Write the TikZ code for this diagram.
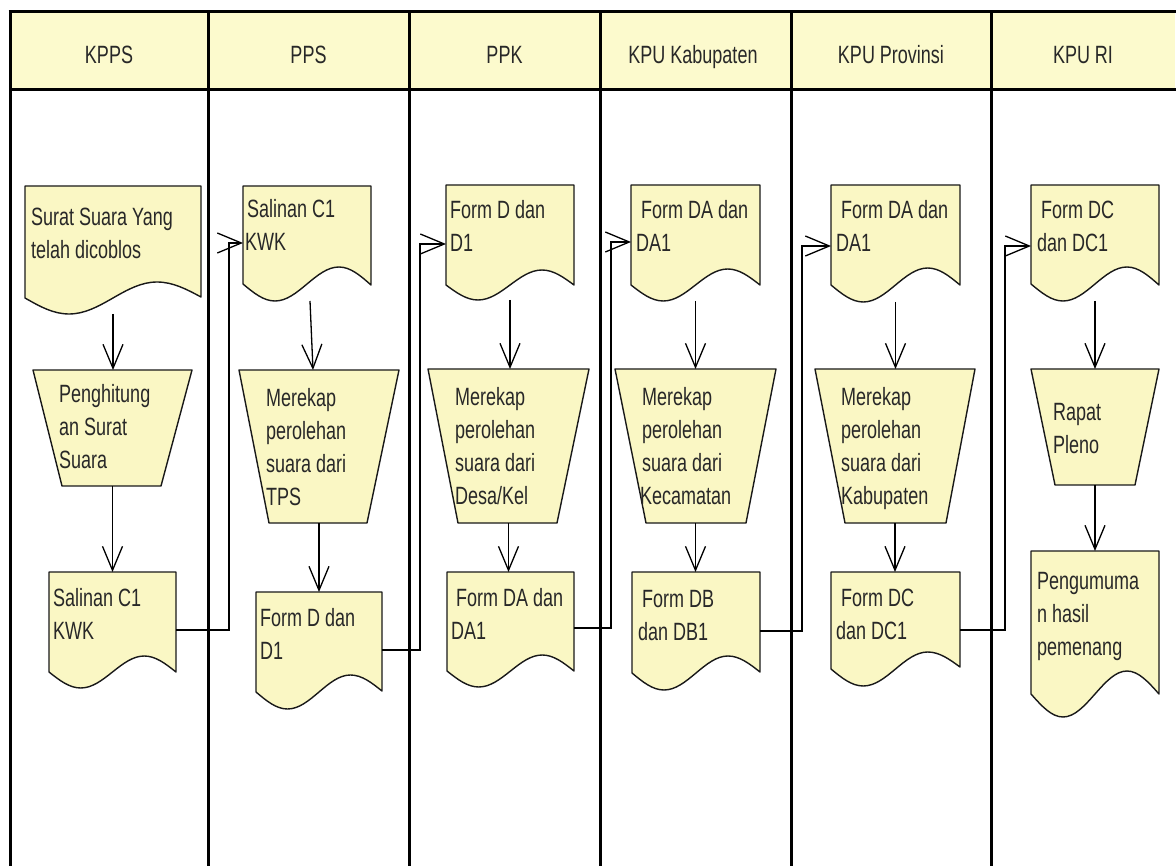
\documentclass[tikz,border=0pt]{standalone}
\usepackage{fontspec}
\newfontfamily\lab{Liberation Sans}[FakeStretch=0.72]
\usetikzlibrary{arrows.meta,calc}
\definecolor{hdrfill}{RGB}{252,250,205}
\definecolor{shpfill}{RGB}{250,247,196}
\definecolor{txtc}{RGB}{40,40,40}
\newcommand\lns[1]{\vtop{\halign{##\hfil\cr#1\crcr}}}
\newcommand\docshape[7]{%
  \pgfmathsetmacro\dqa{#2+0.25*(#4-#2)}%
  \pgfmathsetmacro\dqb{#2+0.5*(#4-#2)}%
  \pgfmathsetmacro\dqc{#2+0.75*(#4-#2)}%
  \pgfmathsetmacro\dww{#4-#2}%
  \pgfmathsetmacro\dhh{#5+#7-#3}%
  \filldraw[shpline] (#2,#3) -- (#4,#3) -- (#4,#6) sin (\dqc,#5-#7) cos (\dqb,#5) sin (\dqa,#5+#7) cos (#2,#5) -- cycle;
  \node[anchorbox, minimum width=\dww pt, minimum height=\dhh pt, anchor=north west] (#1) at (#2,#3) {};
}
\newcommand\trapshape[7]{%
  \filldraw[shpline] (#3,#2) -- (#4,#2) -- (#7,#5) -- (#6,#5) -- cycle;
  \pgfmathsetmacro\dww{#4-#3}%
  \pgfmathsetmacro\dhh{#5-#2}%
  \node[anchorbox, minimum width=\dww pt, minimum height=\dhh pt, anchor=north west] (#1) at (#3,#2) {};
}
\begin{document}
\begin{tikzpicture}[x=1pt,y=-1pt,
  anchorbox/.style={rectangle, draw=none, inner sep=0pt, outer sep=0pt},
  shpline/.style={draw=black!90, fill=shpfill, line width=1.4pt, line join=round},
  laneline/.style={draw=black, line width=3pt},
  txt/.style={anchor=base west, inner sep=0pt, text=txtc, font=\lab\fontsize{25}{33}\selectfont},
  hdr/.style={anchor=base, inner sep=0pt, text=txtc, font=\lab\fontsize{25}{33}\selectfont},
  arr/.style={draw=black, line width=1.3pt, -{Straight Barb[length=24pt,width=20pt,line width=1.3pt]}},
  conn/.style={draw=black, line width=1.3pt, -{Straight Barb[length=24pt,width=20pt,line width=1.3pt]}}
]
\useasboundingbox (0,0) rectangle (1176,866);
% lanes
\fill[hdrfill] (10,12) rectangle (1175,90);
\draw[laneline] (8.5,12) -- (1176,12);
\draw[laneline] (10,90) -- (1176,90);
\foreach \lx in {10,208,409,600,791,991} {\draw[laneline] (\lx,12) -- (\lx,870);}
\node[hdr] (h1) at (109,64) {KPPS};
\node[hdr] (h2) at (308.5,64) {PPS};
\node[hdr] (h3) at (504.5,64) {PPK};
\node[hdr] (h4) at (693,64) {KPU Kabupaten};
\node[hdr] (h5) at (891,64) {KPU Provinsi};
\node[hdr] (h6) at (1083,64) {KPU RI};
% KPPS
\docshape{d1}{25}{186}{201}{298}{297}{16}
\node[txt] (d1t) at (31,226) {\lns{Surat Suara Yang\cr telah dicoblos}};
\trapshape{t1}{370}{33}{192}{486}{62}{161}
\node[txt] (t1t) at (59,403) {\lns{Penghitung\cr an Surat\cr Suara}};
\docshape{d2}{49}{572}{176}{672}{672}{16}
\node[txt] (d2t) at (53,606) {\lns{Salinan C1\cr KWK}};
% PPS
\docshape{d3}{243}{186}{371}{284}{285}{17}
\node[txt] (d3t) at (247,218) {\lns{Salinan C1\cr\kern-2pt KWK}};
\trapshape{t2}{370}{239}{399}{523}{269}{367}
\node[txt] (t2t) at (266,407) {\lns{Merekap\cr perolehan\cr suara dari\cr TPS}};
\docshape{d4}{256}{592}{382}{692}{691}{17}
\node[txt] (d4t) at (260,626) {\lns{Form D dan\cr D1}};
% PPK
\docshape{d5}{446}{185}{574}{285}{285}{15}
\node[txt] (d5t) at (450,219) {\lns{Form D dan\cr D1}};
\trapshape{t3}{369}{428}{589}{523}{458}{557}
\node[txt] (t3t) at (455,406) {\lns{Merekap\cr perolehan\cr suara dari\cr Desa/Kel}};
\docshape{d6}{447}{572}{574}{671}{671}{16}
\node[txt] (d6t) at (456,606) {\lns{Form DA dan\cr\kern-5pt DA1}};
% KPU Kabupaten
\docshape{d7}{631}{185}{760}{285}{285}{16}
\node[txt] (d7t) at (641,219) {\lns{Form DA dan\cr\kern-5pt DA1}};
\trapshape{t4}{369}{615}{776}{523}{646}{746}
\node[txt] (t4t) at (642,406) {\lns{Merekap\cr perolehan\cr suara dari\cr\kern-2pt Kecamatan}};
\docshape{d8}{632}{572}{760}{673}{672}{17}
\node[txt] (d8t) at (642,607) {\lns{Form DB\cr\kern-4pt dan DB1}};
% KPU Provinsi
\docshape{d9}{831}{185}{960}{285}{285}{17}
\node[txt] (d9t) at (841,219) {\lns{Form DA dan\cr\kern-5pt DA1}};
\trapshape{t5}{369}{815}{975}{523}{845}{946}
\node[txt] (t5t) at (841,406) {\lns{Merekap\cr perolehan\cr suara dari\cr Kabupaten}};
\docshape{d10}{831}{572}{960}{669}{667}{17}
\node[txt] (d10t) at (841,606) {\lns{Form DC\cr\kern-5pt dan DC1}};
% KPU RI
\docshape{d11}{1031}{185}{1159}{284}{285}{17}
\node[txt] (d11t) at (1041,219) {\lns{Form DC\cr\kern-4pt dan DC1}};
\trapshape{t6}{369}{1031}{1159}{485}{1055}{1135}
\node[txt] (t6t) at (1053,421) {\lns{Rapat\cr Pleno}};
\docshape{d12}{1031}{551}{1159}{694}{694}{23}
\node[txt] (d12t) at (1037,589) {\lns{Pengumuma\cr n hasil\cr pemenang}};
% vertical arrows
\draw[arr] (d1.south) -- (d1.south |- t1.north);
\draw[arr] (t1.south) -- (t1.south |- d2.north);
\draw[arr] ([xshift=3pt]d3.south) -- ([xshift=-6pt]t2.north);
\draw[arr] (t2.south) -- (t2.south |- d4.north);
\draw[arr] (d5.south) -- (d5.south |- t3.north);
\draw[arr] (t3.south) -- (t3.south |- d6.north);
\draw[arr] (d7.south) -- (d7.south |- t4.north);
\draw[arr] (t4.south) -- (t4.south |- d8.north);
\draw[arr] (d9.south) -- (d9.south |- t5.north);
\draw[arr] (t5.south) -- (t5.south |- d10.north);
\draw[arr] (d11.south) -- (d11.south |- t6.north);
\draw[arr] (t6.south) -- (t6.south |- d12.north);
% lane-crossing connectors
\draw[conn] ($(d2.north east)+(0,58)$) -- ++(53,0) |- ($(d3.north west)+(0,57)$);
\draw[conn] ($(d4.north east)+(0,58)$) -- ++(38,0) |- ($(d5.north west)+(0,59)$);
\draw[conn] ($(d6.north east)+(0,56)$) -- ++(37,0) |- ($(d7.north west)+(0,57)$);
\draw[conn] ($(d8.north east)+(0,59)$) -- ++(42,0) |- ($(d9.north west)+(0,61)$);
\draw[conn] ($(d10.north east)+(0,58)$) -- ++(45,0) |- ($(d11.north west)+(0,61)$);
\end{tikzpicture}
\end{document}
